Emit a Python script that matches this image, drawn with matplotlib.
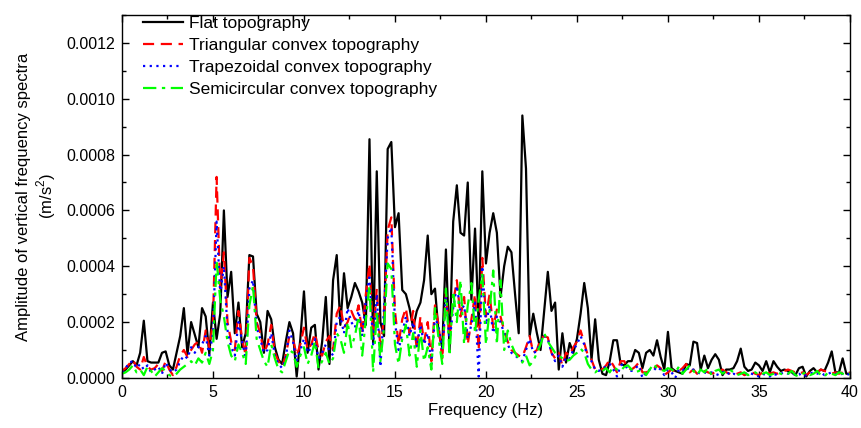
import numpy as np
import matplotlib
matplotlib.use("Agg")
import matplotlib.pyplot as plt
from matplotlib.ticker import MultipleLocator, FormatStrFormatter

plt.rcParams["font.family"] = ["Liberation Sans", "DejaVu Sans"]
plt.rcParams["mathtext.fontset"] = "custom"
plt.rcParams["mathtext.rm"] = "Liberation Sans"

# Frequency axis (Hz), 0.2 Hz resolution
freq = np.linspace(0, 40, 201)

# Spectral amplitudes in units of 1e-4 m/s^2
flat = [
    0.2, 0.3, 0.45, 0.6, 0.45, 0.9, 2.05, 0.6, 0.55, 0.55,
    0.55, 0.9, 0.95, 0.45, 0.3, 0.9, 1.5, 2.5, 0.85, 2.0,
    1.55, 1.1, 2.5, 2.2, 0.85, 2.7, 1.4, 2.3, 6.0, 2.9,
    3.8, 1.6, 2.7, 1.1, 1.6, 4.4, 4.35, 2.3, 2.0, 0.9,
    2.4, 2.1, 1.1, 0.65, 0.5, 1.3, 2.0, 1.6, 0.05, 1.4,
    3.1, 0.9, 1.8, 1.9, 0.3, 1.3, 2.9, 0.5, 3.5, 4.4,
    1.9, 3.75, 2.5, 2.9, 3.4, 3.1, 2.7, 1.9, 8.55, 1.25,
    7.4, 2.0, 1.5, 8.2, 8.45, 5.4, 5.9, 3.15, 3.0, 2.5,
    1.8, 2.4, 2.7, 3.5, 5.1, 3.0, 3.2, 1.6, 1.1, 4.6,
    1.0, 5.6, 6.9, 5.2, 5.1, 7.0, 2.8, 5.35, 1.9, 7.4,
    4.1, 5.2, 5.9, 5.2, 2.9, 4.0, 4.7, 4.5, 3.0, 1.6,
    9.4, 7.5, 1.5, 2.3, 1.6, 1.0, 2.4, 3.8, 2.4, 2.7,
    0.3, 1.6, 0.55, 1.25, 0.9, 1.4, 2.3, 3.4, 2.5, 0.65,
    2.1, 0.65, 0.15, 0.1, 0.6, 1.35, 1.35, 0.5, 0.45, 0.6,
    0.6, 1.0, 0.9, 0.35, 0.9, 1.0, 0.8, 1.35, 0.75, 0.3,
    1.65, 0.35, 0.25, 0.2, 0.15, 0.5, 0.45, 1.3, 1.25, 0.3,
    0.8, 0.35, 0.65, 0.85, 0.65, 0.1, 0.3, 0.3, 0.35, 0.6,
    1.05, 0.4, 0.25, 0.3, 0.55, 0.45, 0.25, 0.6, 0.2, 0.6,
    0.4, 0.25, 0.3, 0.25, 0.2, 0.1, 0.35, 0.4, 0.05, 0.25,
    0.35, 0.2, 0.3, 0.25, 0.55, 0.95, 0.2, 0.2, 0.7, 0.15,
    0.15,
]

triangular = [
    0.25, 0.35, 0.5, 0.65, 0.4, 0.3, 0.75, 0.4, 0.3, 0.35,
    0.5, 0.25, 0.6, 0.3, 0.1, 0.4, 0.8, 1.0, 0.75, 1.0,
    1.2, 1.3, 0.9, 1.7, 1.1, 2.0, 7.2, 3.2, 4.5, 2.0,
    1.3, 1.0, 2.4, 1.4, 0.8, 4.3, 4.0, 2.0, 1.6, 0.9,
    1.2, 1.9, 0.9, 0.6, 0.4, 0.8, 1.5, 1.4, 0.8, 1.2,
    1.8, 1.0, 1.2, 1.6, 1.0, 0.8, 1.3, 1.5, 1.0, 2.3,
    2.6, 1.8, 2.0, 2.4, 2.1, 2.6, 1.6, 3.0, 4.1, 1.5,
    3.2, 1.0, 2.2, 5.3, 5.75, 2.4, 1.2, 2.1, 2.5, 1.6,
    2.4, 1.0, 2.2, 1.3, 2.0, 0.6, 2.6, 1.9, 0.65, 3.05,
    1.5, 2.7, 3.5, 2.2, 2.9, 1.2, 2.1, 3.0, 1.0, 4.3,
    2.2, 3.0, 1.8, 2.45, 2.2, 1.7, 1.3, 1.0, 0.9, 0.8,
    0.75, 1.1, 1.5, 0.9, 1.0, 1.4, 1.5, 1.45, 0.9, 0.7,
    0.9, 0.45, 0.9, 0.8, 1.1, 1.3, 1.7, 1.25, 0.8, 0.65,
    0.3, 0.35, 0.3, 0.45, 0.65, 0.45, 0.2, 0.6, 0.6, 0.35,
    0.3, 0.4, 0.55, 0.2, 0.2, 0.25, 0.3, 0.45, 0.35, 0.1,
    0.2, 0.3, 0.2, 0.25, 0.35, 0.5, 0.2, 0.3, 0.15, 0.2,
    0.25, 0.2, 0.15, 0.2, 0.25, 0.3, 0.2, 0.15, 0.1, 0.15,
    0.2, 0.1, 0.15, 0.2, 0.15, 0.1, 0.2, 0.25, 0.15, 0.2,
    0.15, 0.2, 0.25, 0.3, 0.25, 0.2, 0.15, 0.2, 0.1, 0.2,
    0.25, 0.2, 0.3, 0.25, 0.2, 0.15, 0.2, 0.15, 0.2, 0.15,
    0.2,
]

trapezoidal = [
    0.2, 0.35, 0.55, 0.6, 0.35, 0.5, 0.3, 0.45, 0.2, 0.3,
    0.4, 0.15, 0.55, 0.3, 0.2, 0.3, 0.6, 0.8, 0.7, 1.1,
    0.9, 1.1, 1.2, 1.5, 0.8, 1.6, 5.6, 3.0, 4.0, 1.7,
    1.1, 0.8, 2.0, 1.3, 0.7, 3.2, 3.5, 1.8, 1.4, 0.9,
    1.0, 1.6, 0.8, 0.5, 0.35, 0.7, 1.7, 1.3, 0.6, 1.0,
    1.4, 0.9, 1.1, 1.4, 0.7, 0.9, 1.2, 1.0, 0.8, 2.0,
    2.2, 1.6, 2.5, 2.0, 1.8, 2.4, 1.5, 2.8, 3.6, 1.2,
    3.0, 0.4, 2.5, 5.0, 5.4, 2.0, 1.0, 1.6, 2.2, 1.5,
    2.0, 1.1, 1.9, 1.2, 1.6, 0.5, 2.2, 1.8, 1.0, 2.9,
    1.3, 2.5, 3.3, 2.4, 2.6, 1.4, 1.9, 2.7, 0.05, 4.0,
    1.9, 2.6, 1.6, 2.2, 2.0, 1.6, 1.2, 0.9, 0.8, 0.7,
    0.6, 1.0, 1.4, 0.9, 0.95, 1.3, 1.5, 1.4, 0.9, 0.6,
    0.8, 0.4, 0.75, 0.7, 1.0, 1.2, 1.5, 1.2, 0.7, 0.6,
    0.3, 0.25, 0.35, 0.4, 0.5, 0.3, 0.05, 0.45, 0.5, 0.3,
    0.25, 0.35, 0.45, 0.0, 0.2, 0.3, 0.25, 0.4, 0.3, 0.1,
    0.3, 0.2, 0.0, 0.3, 0.25, 0.4, 0.25, 0.3, 0.2, 0.15,
    0.2, 0.15, 0.2, 0.15, 0.1, 0.2, 0.25, 0.1, 0.15, 0.1,
    0.15, 0.1, 0.2, 0.15, 0.1, 0.05, 0.15, 0.1, 0.05, 0.15,
    0.1, 0.15, 0.2, 0.15, 0.2, 0.1, 0.15, 0.05, 0.1, 0.15,
    0.2, 0.15, 0.2, 0.1, 0.15, 0.2, 0.15, 0.1, 0.15, 0.1,
    0.15,
]

semicircular = [
    0.15, 0.2, 0.3, 0.45, 0.2, 0.3, 0.1, 0.4, 0.25, 0.05,
    0.2, 0.35, 0.25, 0.1, 0.05, 0.15, 0.3, 0.4, 0.5, 0.6,
    0.45, 0.7, 0.55, 0.9, 0.5, 1.0, 4.2, 2.8, 2.2, 1.3,
    0.8, 0.6, 1.2, 0.9, 0.5, 2.6, 3.3, 1.4, 1.0, 0.6,
    0.4, 1.2, 0.7, 0.3, 0.2, 0.6, 1.0, 0.9, 0.4, 0.8,
    1.1, 0.5, 0.8, 1.3, 0.35, 0.6, 0.9, 0.5, 0.7, 1.6,
    1.4, 0.9, 2.0, 1.1, 1.5, 2.2, 0.8, 2.1, 3.3, 0.2,
    2.4, 0.6, 1.8, 4.1, 3.9, 1.2, 0.5, 1.4, 1.9, 0.8,
    1.6, 0.4, 1.7, 0.6, 1.1, 0.3, 2.5, 1.4, 0.5, 3.2,
    0.8, 3.1, 2.0, 3.5, 1.2, 2.6, 3.4, 1.6, 2.8, 3.7,
    1.2, 2.4, 3.85, 1.2, 3.5, 1.0, 1.7, 1.2, 0.9, 0.7,
    0.55, 0.8, 0.45, 0.6, 0.9, 1.2, 1.6, 1.3, 1.1, 0.9,
    0.8, 0.7, 0.6, 0.65, 0.8, 0.9, 1.05, 0.9, 0.5, 0.3,
    0.2, 0.3, 0.25, 0.35, 0.2, 0.4, 0.3, 0.25, 0.4, 0.45,
    0.3, 0.2, 0.25, 0.3, 0.1, 0.3, 0.5, 0.35, 0.3, 0.25,
    0.35, 0.3, 0.2, 0.4, 0.15, 0.3, 0.45, 0.25, 0.1, 0.3,
    0.2, 0.35, 0.1, 0.25, 0.3, 0.15, 0.25, 0.3, 0.2, 0.1,
    0.15, 0.2, 0.1, 0.15, 0.2, 0.1, 0.15, 0.2, 0.1, 0.15,
    0.2, 0.15, 0.1, 0.15, 0.25, 0.1, 0.05, 0.15, 0.2, 0.1,
    0.15, 0.25, 0.1, 0.05, 0.2, 0.15, 0.1, 0.2, 0.15, 0.1,
    0.15,
]

series = [
    ("Flat topography", flat, "#000000", "-"),
    ("Triangular convex topography", triangular, "#FF0000", (0, (5, 3))),
    ("Trapezoidal convex topography", trapezoidal, "#0000FF", (0, (1, 2))),
    ("Semicircular convex topography", semicircular, "#00FF00", (0, (6, 2.5, 1.5, 2.5))),
]

fig = plt.figure(figsize=(8.62, 4.28), dpi=100)
ax = fig.add_axes([0.1415, 0.117, 0.8445, 0.848])

for label, vals, color, ls in series:
    ax.plot(freq, np.array(vals) * 1e-4, color=color, linestyle=ls,
            linewidth=1.6, label=label)

ax.set_xlim(0, 40)
ax.set_ylim(0, 0.0013)
ax.xaxis.set_major_locator(MultipleLocator(5))
ax.xaxis.set_minor_locator(MultipleLocator(2.5))
ax.yaxis.set_major_locator(MultipleLocator(0.0002))
ax.yaxis.set_minor_locator(MultipleLocator(0.0001))
ax.yaxis.set_major_formatter(FormatStrFormatter("%.4f"))
ax.tick_params(which="both", direction="in", top=True, right=True,
               labelsize=11.5, width=1.0)
ax.tick_params(which="major", length=5, pad=5)
ax.tick_params(which="minor", length=3)
for sp in ax.spines.values():
    sp.set_linewidth(1.0)

ax.set_xlabel("Frequency (Hz)", fontsize=12, labelpad=2)
ax.set_ylabel("Amplitude of vertical frequency spectra\n(m/s$^2$)",
              fontsize=12, linespacing=1.15, labelpad=6)

ax.legend(loc="upper left", frameon=False, fontsize=12.5, handlelength=2.3,
          handletextpad=0.4, labelspacing=0.4, borderaxespad=0.2,
          bbox_to_anchor=(0.014, 1.027))

fig.savefig("out.png", dpi=100, facecolor="white")
